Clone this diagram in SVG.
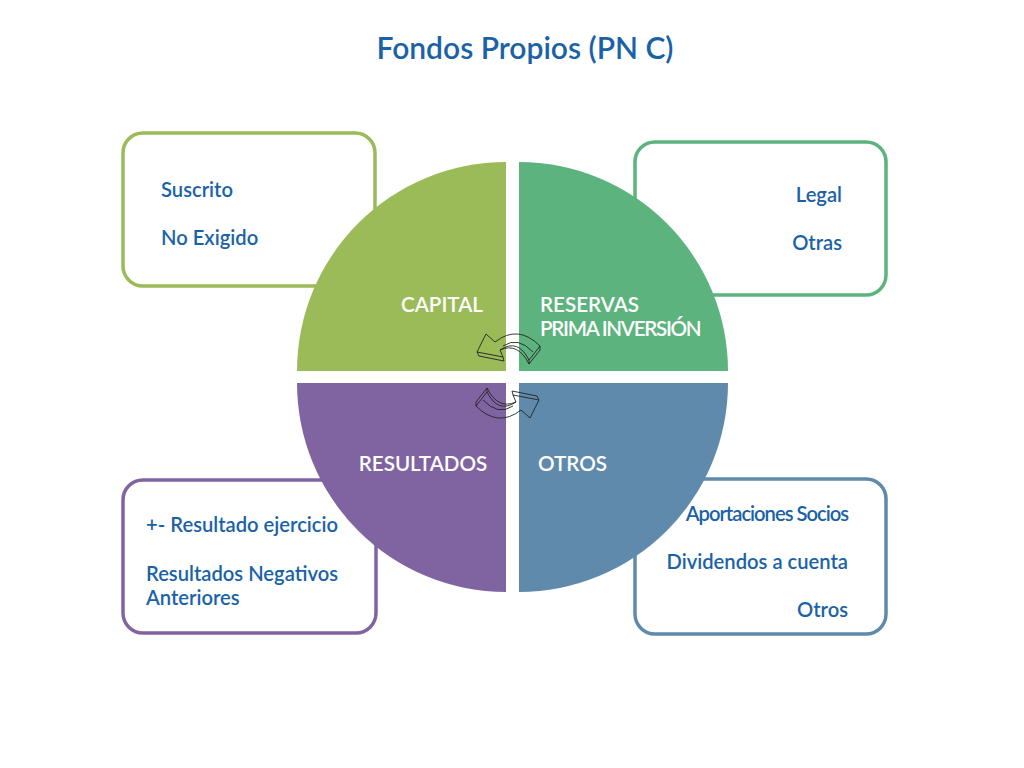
<svg xmlns="http://www.w3.org/2000/svg" width="1024" height="768" viewBox="0 0 1024 768">
<style>
.box{fill:#fff;stroke-width:3.5}
.bt{font-family:Lato,"Liberation Sans",sans-serif;font-size:20.2px;fill:#1a62a8;font-weight:600}
.ql{font-family:Lato,"Liberation Sans",sans-serif;font-size:20.6px;fill:#fff;font-weight:600}
.arr{fill:none;stroke:#222;stroke-width:0.9}
</style>
<rect width="1024" height="768" fill="#fff"/>
<text x="525" y="59" text-anchor="middle" style="font-family:Lato,'Liberation Sans',sans-serif;font-size:30px;font-weight:600;fill:#1a62a8">Fondos Propios (PN C)</text>
<g id="box-capital"><rect class="box" x="123" y="133" width="252" height="153" rx="20" stroke="#9bbb59"/><text class="bt" x="161" y="197">Suscrito</text><text class="bt" x="161" y="245">No Exigido</text></g>
<g id="box-reservas"><rect class="box" x="635" y="142" width="251" height="153" rx="20" stroke="#5db37e"/><text class="bt" x="842" y="202" text-anchor="end">Legal</text><text class="bt" x="842" y="250" text-anchor="end">Otras</text></g>
<g id="box-resultados"><rect class="box" x="123" y="480" width="253" height="153" rx="20" stroke="#8064a2"/><text class="bt" x="146" y="532">+- Resultado ejercicio</text><text class="bt" x="146" y="581">Resultados Negativos</text><text class="bt" x="146" y="605">Anteriores</text></g>
<g id="box-otros"><rect class="box" x="635" y="479" width="251" height="155" rx="20" stroke="#5f8aac"/><text class="bt" x="848" y="521" text-anchor="end" letter-spacing="-1">Aportaciones Socios</text><text class="bt" x="848" y="569" text-anchor="end">Dividendos a cuenta</text><text class="bt" x="848" y="617" text-anchor="end">Otros</text></g>
<g id="capital"><path d="M506,371 L297,371 A209,209 0 0 1 506,162 Z" fill="#9bbb59"/><text class="ql" x="442" y="312" text-anchor="middle">CAPITAL</text></g>
<g id="reservas"><path d="M519,371 L519,162 A209,209 0 0 1 728,371 Z" fill="#5db37e"/><text class="ql" x="540" y="312">RESERVAS</text><text class="ql" x="540" y="336" letter-spacing="-1.3">PRIMA INVERSIÓN</text></g>
<g id="resultados"><path d="M506,383 L506,592 A209,209 0 0 1 297,383 Z" fill="#8064a2"/><text class="ql" x="423" y="471" text-anchor="middle">RESULTADOS</text></g>
<g id="otros"><path d="M519,383 L728,383 A209,209 0 0 1 519,592 Z" fill="#5f8aac"/><text class="ql" x="538" y="471">OTROS</text></g>
<g id="connectors">
<g id="arrow-top">
<path class="arr" d="M540,346 Q518,324 495,342 L486,334 L477,352 L503,357 L500,350 Q518,338 529,360 Z"/>
<path class="arr" d="M477,352 L479,356 L504,361 L503,357 M500,350 Q518,342 529,364 L529,360 M540,346 L540,350 L529,364"/>
<path class="arr" d="M503,346 Q518,336 533,352"/>
</g>
<g id="arrow-bottom" transform="rotate(180 508 376)">
<path class="arr" d="M540,346 Q518,324 495,342 L486,334 L477,352 L503,357 L500,350 Q518,338 529,360 Z"/>
<path class="arr" d="M477,352 L479,356 L504,361 L503,357 M500,350 Q518,342 529,364 L529,360 M540,346 L540,350 L529,364"/>
<path class="arr" d="M503,346 Q518,336 533,352"/>
</g>
</g>
</svg>
